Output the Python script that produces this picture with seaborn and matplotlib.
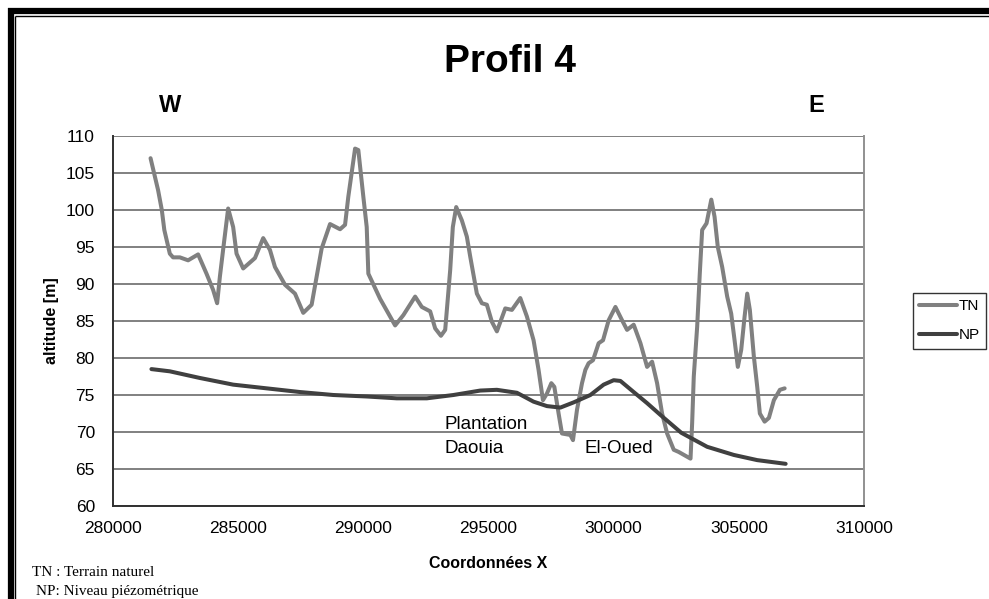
import matplotlib
matplotlib.use("Agg")
import matplotlib.pyplot as plt
from matplotlib.lines import Line2D
import seaborn as sns
import pandas as pd

# Terrain naturel (TN) profile
tn_x = [281500, 281800, 281950, 282050, 282270, 282400, 282670, 283000, 283400, 283735,
        284000, 284160, 284270, 284430, 284600, 284800, 284935, 285200, 285670, 286000,
        286270, 286470, 286870, 287270, 287600, 287935, 288335, 288670, 289070, 289270,
        289400, 289670, 289800, 290000, 290135, 290200, 290670, 291270, 291600, 292070,
        292335, 292670, 292870, 293100, 293270, 293470, 293575, 293710, 293935, 294135,
        294270, 294535, 294735, 294935, 295135, 295335, 295670, 295935, 296270, 296535,
        296800, 297000, 297175, 297335, 297510, 297630, 297800, 297935, 298270, 298375,
        298535, 298735, 298870, 299000, 299175, 299400, 299575, 299800, 300070, 300335,
        300535, 300800, 301070, 301335, 301535, 301735, 301935, 302135, 302400, 302600,
        303070, 303135, 303200, 303335, 303440, 303535, 303710, 303900, 304030, 304160,
        304335, 304535, 304695, 304830, 304960, 305095, 305230, 305335, 305440, 305600,
        305735, 305840, 306030, 306200, 306400, 306640, 306830]
tn_alt = [107.0, 102.7, 100.0, 97.3, 94.1, 93.6, 93.6, 93.2, 94.0, 91.4,
          89.2, 87.4, 91.0, 95.5, 100.2, 97.7, 94.1, 92.1, 93.5, 96.2,
          94.6, 92.3, 89.9, 88.7, 86.1, 87.2, 94.8, 98.1, 97.4, 98.0,
          101.8, 108.3, 108.1, 101.8, 97.7, 91.4, 88.0, 84.4, 85.8, 88.3,
          86.9, 86.3, 84.0, 83.0, 83.8, 91.9, 97.7, 100.4, 98.6, 96.4,
          93.7, 88.7, 87.4, 87.2, 84.9, 83.6, 86.7, 86.5, 88.1, 85.6,
          82.4, 78.4, 74.3, 75.2, 76.6, 76.1, 72.5, 69.8, 69.6, 68.9,
          73.0, 76.6, 78.4, 79.3, 79.7, 82.0, 82.4, 85.1, 86.9, 85.1,
          83.8, 84.5, 82.0, 78.8, 79.5, 76.6, 72.5, 69.8, 67.6, 67.3,
          66.4, 71.2, 77.5, 84.2, 91.4, 97.3, 98.2, 101.4, 99.1, 95.0,
          92.3, 88.3, 86.0, 82.4, 78.8, 81.1, 85.6, 88.7, 86.5, 80.2,
          76.1, 72.5, 71.4, 71.9, 74.3, 75.7, 75.9]

# Niveau piezometrique (NP) profile
np_x = [281535, 282270, 283470, 284800, 286135, 287470, 288800, 290135, 291335, 292535,
        293600, 294670, 295335, 296135, 296800, 297335, 297870, 298400, 299070, 299600,
        300000, 300270, 300800, 301335, 301870, 302700, 303735, 304800, 305735, 306870]
np_alt = [78.5, 78.2, 77.3, 76.4, 75.9, 75.4, 75.0, 74.8, 74.55, 74.55,
          75.0, 75.6, 75.7, 75.3, 74.1, 73.5, 73.3, 74.0, 75.0, 76.4,
          77.0, 76.9, 75.4, 73.9, 72.3, 69.9, 68.0, 66.9, 66.2, 65.7]

series_names = ["TN", "NP"]
series_colors = {"TN": "#808080", "NP": "#404040"}
x_ticks = [280000, 285000, 290000, 295000, 300000, 305000, 310000]
y_ticks = [60, 65, 70, 75, 80, 85, 90, 95, 100, 105, 110]

df = pd.concat([
    pd.DataFrame({"X": tn_x, "alt": tn_alt, "serie": "TN"}),
    pd.DataFrame({"X": np_x, "alt": np_alt, "serie": "NP"}),
], ignore_index=True)

sns.set_style("white")
plt.rcParams["font.family"] = ["Liberation Sans", "DejaVu Sans"]
plt.rcParams["text.color"] = "black"
plt.rcParams["axes.labelcolor"] = "black"
plt.rcParams["xtick.color"] = "black"
plt.rcParams["ytick.color"] = "black"

W, H = 989, 599
fig = plt.figure(figsize=(W / 100, H / 100), dpi=100)
ax = fig.add_axes([113 / W, 1 - 506 / H, (864 - 113) / W, (506 - 136) / H])

sns.lineplot(data=df, x="X", y="alt", hue="serie", palette=series_colors,
             hue_order=series_names, sort=False, estimator=None,
             linewidth=2.9, legend=False, ax=ax, zorder=3)

ax.set_xlim(280000, 310000)
ax.set_ylim(60, 110)
ax.set_xticks(x_ticks)
ax.set_xticklabels([str(v) for v in x_ticks])
ax.set_yticks(y_ticks)
ax.set_yticklabels([str(v) for v in y_ticks])
ax.tick_params(axis="both", direction="out", length=5, width=1.0, color="#404040",
               labelsize=12.5, labelcolor="black")
ax.tick_params(axis="y", pad=8)
ax.tick_params(axis="x", pad=6)
ax.yaxis.grid(True, color="#808080", linewidth=1.4)
ax.set_axisbelow(True)

ax.spines["top"].set_visible(False)
ax.spines["right"].set_color("#909090")
ax.spines["right"].set_linewidth(1.4)
ax.spines["left"].set_color("#303030")
ax.spines["left"].set_linewidth(1.4)
ax.spines["bottom"].set_color("#303030")
ax.spines["bottom"].set_linewidth(1.4)

ax.set_xlabel("Coordonnées X", fontsize=11.5, fontweight="bold", labelpad=14)
ax.set_ylabel("altitude [m]", fontsize=11.5, fontweight="bold", labelpad=5)

# place annotations
ax.text(293250, 69.8, "Plantation", fontsize=13.5, va="bottom", ha="left", zorder=4)
ax.text(293250, 66.6, "Daouia", fontsize=13.5, va="bottom", ha="left", zorder=4)
ax.text(298850, 66.6, "El-Oued", fontsize=13.5, va="bottom", ha="left", zorder=4)

# title and orientation
fig.text(510 / W, 1 - 62 / H, "Profil 4", fontsize=28, fontweight="bold",
         ha="center", va="center")
fig.text(170 / W, 1 - 105 / H, "W", fontsize=17, fontweight="bold", ha="center", va="center")
fig.text(816 / W, 1 - 105 / H, "E", fontsize=17, fontweight="bold", ha="center", va="center")

# legend
handles = [Line2D([0], [0], color=series_colors[s], lw=2.9) for s in series_names]
leg = fig.legend(handles, series_names, loc="upper left",
                 bbox_to_anchor=(913 / W, 1 - 293 / H), frameon=True, fancybox=False,
                 fontsize=11, handlelength=2.5, handletextpad=0.1,
                 borderpad=0.4, labelspacing=1.0, borderaxespad=0)
leg.get_frame().set_edgecolor("black")
leg.get_frame().set_linewidth(1.0)

# footnote
fig.text(32 / W, 1 - 572 / H, "TN : Terrain naturel", fontsize=11,
         family=["Liberation Serif", "DejaVu Serif"], ha="left", va="center")
fig.text(36 / W, 1 - 591 / H, "NP: Niveau piézométrique", fontsize=11,
         family=["Liberation Serif", "DejaVu Serif"], ha="left", va="center")

# double frame along top and left edges
def px_line(x0, y0, x1, y1, lw):
    fig.add_artist(Line2D([x0 / W, x1 / W], [1 - y0 / H, 1 - y1 / H],
                          transform=fig.transFigure, color="black", lw=lw,
                          solid_capstyle="butt"))

px_line(8, 11, W, 11, 4.5)
px_line(10.5, 8, 10.5, H, 4.5)
px_line(15.5, 15.5, W, 15.5, 1.0)
px_line(15.5, 15.5, 15.5, H, 1.0)

fig.savefig("out.png", dpi=100)
